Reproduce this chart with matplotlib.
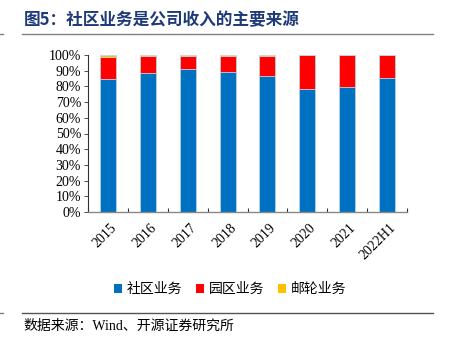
import matplotlib
matplotlib.use("Agg")
import matplotlib.pyplot as plt
from matplotlib.patches import Patch
from matplotlib.lines import Line2D
import numpy as np

plt.rcParams['font.family'] = ['Liberation Serif', 'Noto Sans CJK SC', 'DejaVu Sans']

categories = ['2015', '2016', '2017', '2018', '2019', '2020', '2021', '2022H1']
community = [85.0, 88.3, 91.3, 89.2, 86.6, 78.3, 79.6, 85.3]
park = [14.0, 10.9, 7.9, 10.1, 12.5, 21.7, 20.4, 14.7]
cruise = [1.0, 0.8, 0.8, 0.7, 0.9, 0.0, 0.0, 0.0]
series_names = ['社区业务', '园区业务', '邮轮业务']
colors = ['#0070C0', '#FF0000', '#FFC000']
yticks = [0, 10, 20, 30, 40, 50, 60, 70, 80, 90, 100]

W, H = 453, 345
fig = plt.figure(figsize=(W/100, H/100), dpi=100)
ax = fig.add_axes([88/W, 1-212/H, (407-88)/W, (212-55)/H])

x = np.arange(len(categories))
bottom = np.zeros(len(categories))
for vals, c in zip([community, park, cruise], colors):
    ax.bar(x, vals, width=0.4, bottom=bottom, color=c, edgecolor='#BDD7EE', linewidth=0.5)
    bottom += np.array(vals)

ax.set_xlim(-0.5, len(categories)-0.5)
ax.set_ylim(0, 100)
ax.set_yticks(yticks)
ax.set_yticklabels([f'{v}%' for v in yticks], fontsize=10)
ax.tick_params(axis='y', direction='out', length=3, width=0.6, pad=2, color='#333333')
ax.set_xticks(np.arange(len(categories)+1)-0.5)
ax.set_xticklabels([])
ax.tick_params(axis='x', direction='in', length=3, width=0.8, color='#333333')
for i, lab in enumerate(categories):
    ax.text(i+0.05, -6, lab, rotation=45, ha='right', va='top', rotation_mode='anchor',
            fontsize=10, transform=ax.transData)
ax.spines['top'].set_visible(False)
ax.spines['right'].set_visible(False)
ax.spines['left'].set_color('#333333')
ax.spines['left'].set_linewidth(0.8)
ax.spines['bottom'].set_color('#888888')
ax.spines['bottom'].set_linewidth(1.0)

# Legend
handles = [Patch(facecolor=c, edgecolor='none') for c in colors]
fig.legend(handles, series_names, loc='center', bbox_to_anchor=(230/W, 1-289/H), ncol=3,
           frameon=False, handlelength=0.6, handleheight=0.6, handletextpad=0.3,
           columnspacing=1.0, prop={'family': ['Noto Sans CJK SC'], 'size': 10})

# Title and decorations
fig.text(24/W, 1-20/H, '图5：社区业务是公司收入的主要来源', fontsize=12, fontweight='bold',
         color='#1F3A78', ha='left', va='center', family=['Noto Sans CJK SC', 'DejaVu Sans'])
fig.add_artist(Line2D([22/W, 433/W], [1-34/H, 1-34/H], color='#808080', linewidth=1.0))
fig.add_artist(Line2D([22/W, 433/W], [1-313/H, 1-313/H], color='#555555', linewidth=1.0))
fig.add_artist(Line2D([0, 3/W], [1-34/H, 1-34/H], color='#808080', linewidth=1.0))
fig.add_artist(Line2D([0, 3/W], [1-313/H, 1-313/H], color='#808080', linewidth=1.0))
fig.text(23/W, 1-326/H, '数据来源：Wind、开源证券研究所', fontsize=10, ha='left', va='center',
         family=['Liberation Serif', 'Noto Sans CJK SC'])

fig.savefig('out.png', dpi=100)
